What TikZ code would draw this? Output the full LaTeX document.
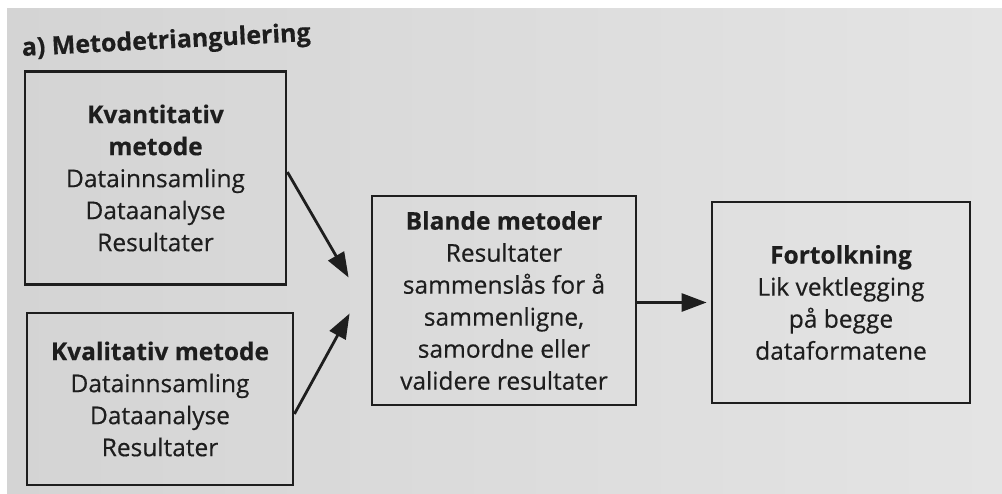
\documentclass[tikz,border=0pt]{standalone}
\usepackage{fontspec}
\setmainfont{Open Sans}[FakeBold=0.45]
\usetikzlibrary{arrows.meta,calc}
\definecolor{ink}{RGB}{30,30,30}
\definecolor{paperL}{RGB}{212,212,212}
\definecolor{paperR}{RGB}{228,228,228}
\tikzset{
  box/.style={draw=ink, line width=2.8pt, rectangle, inner sep=0pt,
    align=center, text=ink, font=\fontsize{24.5}{32}\selectfont},
  flow/.style={draw=ink, line width=2.8pt,
    -{Triangle[length=25pt,width=18pt]}},
}
\begin{document}
\begin{tikzpicture}[x=1pt,y=-1pt]
  % paper
  \useasboundingbox (0,0) rectangle (1002,493);
  \fill[white] (0,0) rectangle (1002,493);
  \shade[left color=paperL, right color=paperR] (7,8) rectangle (1002,493);

  % heading
  \node[anchor=base west, rotate=3, inner sep=0pt, text=ink,
        font=\fontsize{25}{30}\selectfont\bfseries] (title) at (22,56)
        {a) Metodetriangulering};

  % boxes
  \node[box, minimum width=261pt, minimum height=213pt] (kvant) at (155.5,178)
    {\textbf{Kvantitativ}\\\textbf{metode}\\Datainnsamling\\Dataanalyse\\Resultater};
  \node[box, minimum width=266pt, minimum height=172pt] (kval) at (160,399)
    {\textbf{Kvalitativ metode}\\Datainnsamling\\Dataanalyse\\Resultater};
  \node[box, minimum width=264pt, minimum height=209pt] (blande) at (504,300.5)
    {\textbf{Blande metoder}\\Resultater\\sammenslås for å\\sammenligne,\\samordne eller\\validere resultater};
  \node[box, minimum width=258pt, minimum height=201pt] (fort) at (841,302.5)
    {\textbf{Fortolkning}\\Lik vektlegging\\på begge\\dataformatene};

  % arrow ends in front of the mixing box
  \coordinate (t1) at ($(blande.west)+(-22,-23)$);
  \coordinate (t2) at ($(blande.west)+(-21,13)$);

  % connectors
  \draw[flow] ($(kvant.east)+(0,-6)$) -- (t1);
  \draw[flow] ($(kval.east)+(0,15)$) -- (t2);
  \draw[flow, shorten >=4pt] (blande.east |- fort.west) -- (fort.west);
\end{tikzpicture}
\end{document}
